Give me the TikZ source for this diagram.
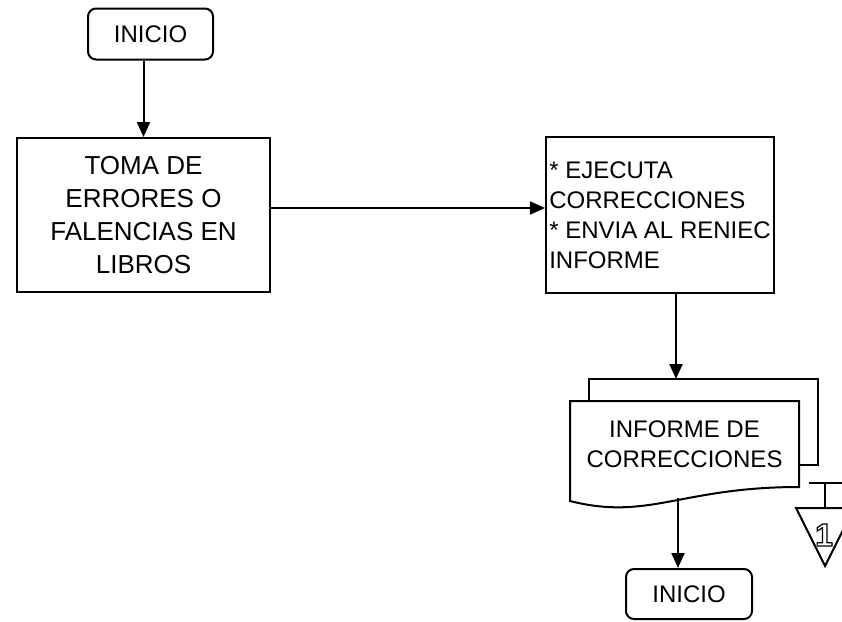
\documentclass[tikz,border=0pt]{standalone}
\usepackage{fontspec}
\setmainfont{Liberation Sans}
\usetikzlibrary{arrows.meta,calc}

\begin{document}
\begin{tikzpicture}[
  x=1pt,y=-1pt,
  >={Triangle[length=15pt,width=13pt]},
  line width=2pt,
  caja/.style={draw,rectangle,font=\fontsize{24}{30}\selectfont},
  inicio/.style={caja,rounded corners=8pt,minimum width=125pt,minimum height=51pt}
]
\useasboundingbox (0,0) rectangle (842,621);
\clip (0,0) rectangle (842,621);

% inicio
\node[inicio] (ini) at (150.5,34) {INICIO};

% toma de errores
\node[caja,minimum width=253pt,minimum height=154pt,align=center,
  font=\fontsize{26}{33}\selectfont] (toma) at (143.5,215)
  {TOMA DE\\ERRORES O\\FALENCIAS EN\\LIBROS};

% ejecuta correcciones
\node[caja,minimum width=227pt,minimum height=156pt,
  align=left] (ejec) at (660,215)
  {* EJECUTA\\CORRECCIONES\\{*} ENVIA AL RENIEC\\INFORME};

% documento (informe)
\node[minimum width=227pt,minimum height=84pt,align=center,
  font=\fontsize{24}{30}\selectfont] (inf) at (684.5,444)
  {INFORME DE\\CORRECCIONES};
\draw (inf.north west) -- (inf.north east) -- (inf.south east)
  .. controls ($(inf.south east)+(-118,0)$) and ($(inf.south west)+(79,34)$)
  .. ($(inf.south west)+(0,14)$) -- cycle;
\draw ($(inf.north west)+(19,0)$) -- ++(0,-22)
  -| ($(inf.east)+(19,21)$) -- ($(inf.east)+(0,21)$);
\coordinate (hoja) at ($(inf.north west)+(106,-22)$);
\coordinate (onda) at (678,498);

% fin
\node[inicio,minimum width=126pt,minimum height=50pt] (fin) at (689,594) {INICIO};

% flechas
\draw[->] (ini.south -| toma.north) -- (toma.north);
\draw[->] ($(toma.east)+(0,-7)$) -- ($(ejec.west)+(0,-7)$);
\draw[->] (ejec.south -| hoja) -- (hoja);
\draw[->] (onda) -- (fin.north -| onda);

% conector fuera de pagina
\coordinate (conec) at (825,483);
\draw ($(conec)+(-16,0)$) -- ($(conec)+(17,0)$);
\draw (conec) -- ++(0,25);
\draw (796,508) -- (854,508) -- (825,566) -- cycle;
\node[font=\fontsize{32}{32}\selectfont\bfseries] (uno) at (824,535)
  {\special{pdf:literal 1 Tr 1.2 w}1\special{pdf:literal 0 Tr}};

\end{tikzpicture}
\end{document}
